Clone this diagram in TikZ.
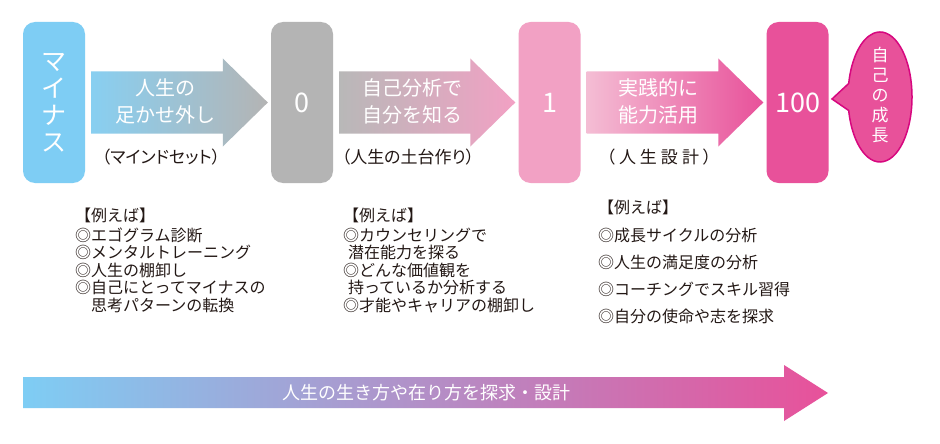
\documentclass[tikz,border=0pt]{standalone}
\usepackage{fontspec}
\setmainfont{Noto Sans CJK JP}
\newfontfamily\notefont{Noto Sans CJK JP}[RawFeature=+palt]
\usepackage{tikz}
\usetikzlibrary{calc,positioning}

\definecolor{minusblue}{HTML}{7ECDF4}
\definecolor{zerogray}{HTML}{B4B4B4}
\definecolor{onepink}{HTML}{F2A1C4}
\definecolor{hundredpink}{HTML}{E8519A}
\definecolor{bubbleedge}{HTML}{D7077F}
\definecolor{blueshade}{HTML}{88CFF1}
\definecolor{grayshade}{HTML}{B8B8B8}
\definecolor{lightpink}{HTML}{F4BDD4}
\definecolor{midlilac}{HTML}{C4ABD2}
\definecolor{listtext}{HTML}{231815}

\begin{document}
\begin{tikzpicture}[x=1pt,y=-1pt,
    stage/.style={rounded corners=12pt,minimum width=62pt,minimum height=161pt,inner sep=0pt,text=white,font=\fontsize{27}{27}\selectfont},
    arrowtext/.style={text=white,align=center,font=\fontsize{20}{27}\selectfont},
    note/.style={text=listtext,font=\notefont\fontsize{17}{17}\selectfont},
    list/.style={anchor=north west,inner sep=0pt,align=left,text=listtext}]
  \useasboundingbox (0,0) rectangle (940,444);
  \fill[white] (0,0) rectangle (940,444);

  % the four stages
  \node[stage,fill=minusblue,align=center,font=\fontsize{25}{27}\selectfont] (minus) at (54,102.5) {マ\\イ\\ナ\\ス};
  \node[stage,fill=zerogray] (zero) at (302,102.5) {0};
  \node[stage,fill=onepink] (one) at (549.5,102.5) {1};
  \node[stage,fill=hundredpink] (hundred) at (797.5,102.5) {100};

  % block arrows from stage to stage
  \foreach \a/\b/\ca/\cb in {minus/zero/blueshade/zerogray,zero/one/grayshade/onepink,one/hundred/lightpink/hundredpink}
    \shade[left color=\ca,right color=\cb] ($(\a.east)+(6,-31)$) -- ($(\b.west)+(-48,-31)$) -- ($(\b.west)+(-48,-44)$)
      -- ($(\b.west)+(-3,0)$) -- ($(\b.west)+(-48,44)$) -- ($(\b.west)+(-48,31)$) -- ($(\a.east)+(6,31)$) -- cycle;

  \node[arrowtext] (detach) at (165,101.5) {人生の\\足かせ外し};
  \node[arrowtext] (selfknow) at (412,101.5) {自己分析で\\自分を知る};
  \node[arrowtext] (practice) at (658,101.5) {実践的に\\能力活用};

  \node[note] (mindset) at (161,157) {（マインドセット）};
  \node[note] (base) at (408,157) {（人生の土台作り）};
  \node[note] (design) at (659,157) {（\kern4pt 人\kern4pt 生\kern4pt 設\kern4pt 計\kern4pt ）};

  % speech bubble
  \filldraw[fill=hundredpink,draw=bubbleedge,line width=1.5pt] (832,99) coordinate (tip) -- (848.7,110.5)
    arc[start angle=168,end angle=-168,x radius=32,y radius=65] -- cycle;
  \node[text=white,align=center,font=\fontsize{17}{20}\selectfont] (growth) at (880,95) {自\\己\\の\\成\\長};

  % examples under each arrow
  \node[list,font=\fontsize{16}{17.5}\selectfont] (ex1) at (75,207.7) {【例えば】\\[2.5pt]◎エゴグラム診断\\◎メンタルトレーニング\\◎人生の棚卸し\\◎自己にとってマイナスの\\\hspace*{1em}思考パターンの転換};
  \node[list,font=\fontsize{16}{17.5}\selectfont] (ex2) at (343,207.7) {【例えば】\\[2.5pt]◎カウンセリングで\\\hspace*{0.3em}潜在能力を探る\\◎どんな価値観を\\\hspace*{0.3em}持っているか分析する\\◎才能やキャリアの棚卸し};
  \node[list,font=\fontsize{16}{27}\selectfont] (ex3) at (598,199.7) {【例えば】\\[1pt]◎成長サイクルの分析\\◎人生の満足度の分析\\◎コーチングでスキル習得\\◎自分の使命や志を探求};

  % long arrow at the bottom
  \shade[left color=minusblue,middle color=midlilac,right color=hundredpink] (23,377) -- (784,377) -- (784,365)
    -- (828,393) -- (784,421) -- (784,408) -- (23,408) -- cycle;
  \node[text=white,font=\fontsize{18}{18}\selectfont] (quest) at (426,393) {人生の生き方や在り方を探求・設計};
\end{tikzpicture}
\end{document}
